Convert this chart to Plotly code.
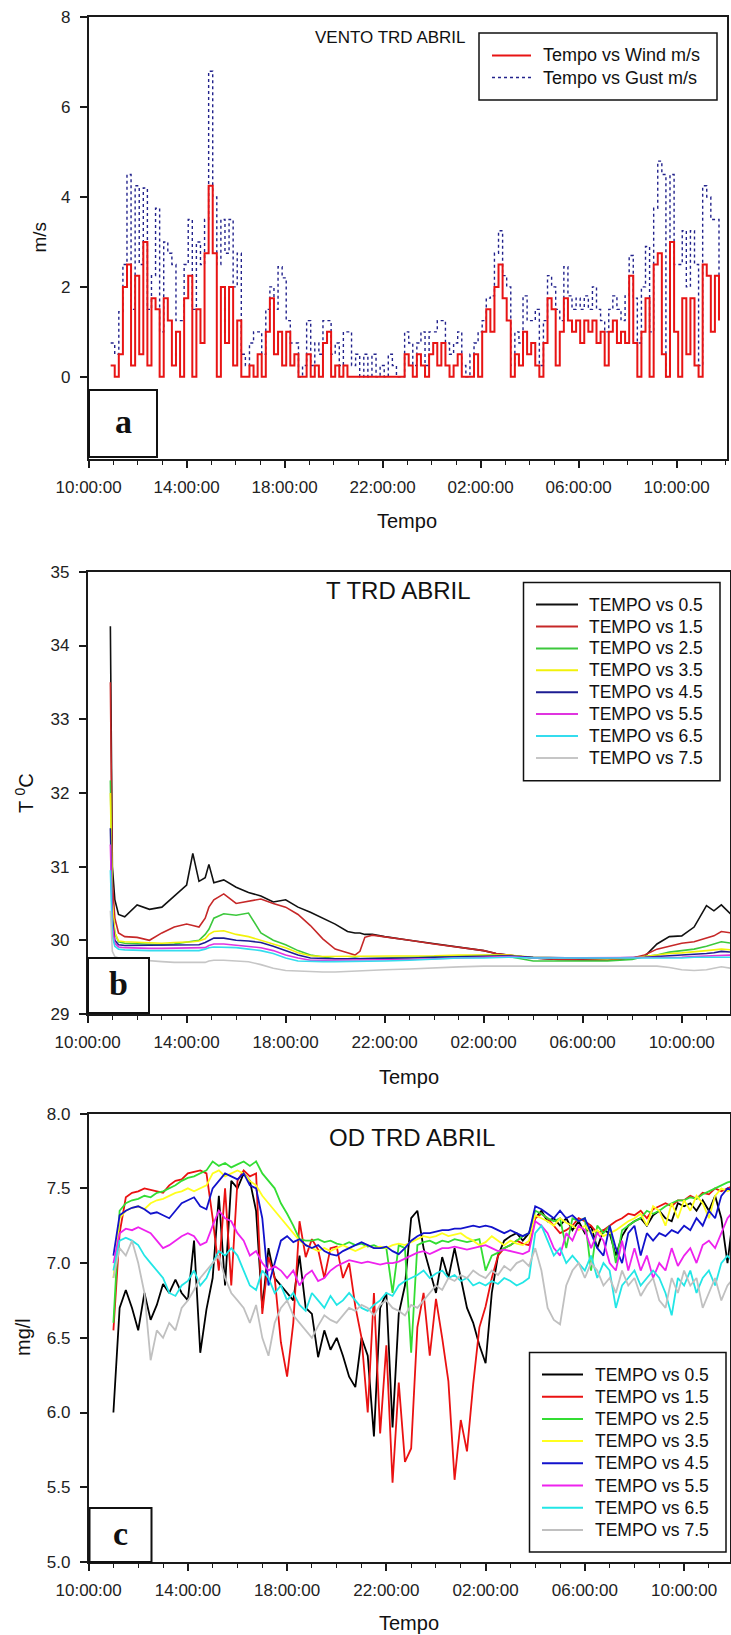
import pandas as pd
import plotly.graph_objects as go

FONT = "Liberation Sans"
SERIF = "Liberation Serif"
W, H = 731, 1635
BASE = pd.Timestamp("2014-04-10 10:00:00")

# ---------------- (a) VENTO: 10-minute records ----------------
WIND_START = "2014-04-10 10:54:00"
WIND_STEP = "10min"
WIND_MS = [
    0.25, 0.0, 0.5, 2.0, 2.5, 0.25,
    2.25, 0.5, 3.0, 0.25, 1.75, 1.5,
    0.0, 1.75, 1.25, 0.25, 1.0, 0.0,
    1.75, 2.25, 0.0, 1.5, 0.75, 2.75,
    4.25, 2.75, 0.0, 2.0, 0.75, 2.0,
    0.25, 1.25, 0.0, 0.0, 0.25, 0.0,
    0.5, 0.0, 1.0, 1.75, 0.5, 1.0,
    0.25, 1.0, 0.25, 0.5, 0.0, 0.0,
    0.5, 0.0, 0.25, 0.0, 0.75, 1.0,
    0.0, 0.25, 0.0, 0.25, 0.0, 0.0,
    0.0, 0.0, 0.0, 0.0, 0.0, 0.0,
    0.0, 0.0, 0.0, 0.0, 0.0, 0.0,
    0.5, 0.25, 0.0, 0.5, 0.25, 0.0,
    0.5, 0.75, 0.25, 0.75, 0.25, 0.0,
    0.25, 0.5, 0.0, 0.0, 0.0, 0.5,
    0.0, 1.0, 1.5, 1.0, 2.0, 2.5,
    1.75, 1.25, 0.0, 0.5, 0.25, 1.0,
    0.5, 0.75, 0.25, 0.0, 0.75, 1.75,
    1.5, 0.25, 1.0, 1.75, 1.25, 1.0,
    1.25, 0.75, 1.25, 1.0, 1.25, 0.75,
    1.0, 0.25, 1.0, 1.25, 0.75, 1.0,
    0.75, 2.25, 0.75, 0.0, 1.0, 1.75,
    0.0, 2.5, 2.75, 0.5, 0.0, 3.0,
    1.0, 0.0, 1.75, 0.5, 1.75, 0.25,
    0.0, 2.5, 2.25, 1.0, 2.25, 1.25,
]
GUST_MS = [
    0.75, 0.5, 1.45, 2.5, 4.5, 1.5,
    4.25, 2.5, 4.2, 1.5, 2.25, 3.75,
    1.0, 3.0, 2.75, 2.5, 1.25, 1.25,
    2.5, 3.5, 1.5, 3.0, 2.5, 3.5,
    6.8, 4.0, 2.5, 3.5, 2.75, 3.5,
    2.0, 2.75, 0.5, 0.25, 0.75, 1.0,
    1.0, 0.5, 1.5, 2.0, 1.5, 2.45,
    2.2, 1.25, 0.75, 0.75, 0.0, 0.25,
    1.25, 0.25, 0.75, 0.5, 1.25, 1.25,
    0.5, 0.75, 0.25, 1.0, 1.0, 0.25,
    0.5, 0.0, 0.5, 0.0, 0.5, 0.0,
    0.25, 0.0, 0.5, 0.25, 0.0, 0.0,
    1.0, 0.75, 0.25, 0.75, 1.0, 0.25,
    1.0, 1.0, 1.25, 1.25, 0.75, 0.5,
    0.75, 1.0, 0.25, 0.0, 0.5, 0.75,
    1.0, 1.25, 1.75, 1.8, 2.75, 3.25,
    2.25, 2.0, 0.25, 1.0, 0.75, 1.8,
    1.25, 1.25, 1.5, 0.25, 1.25, 2.25,
    2.0, 1.5, 1.25, 2.45, 1.8, 1.5,
    1.75, 1.5, 1.8, 1.5, 2.0, 1.5,
    1.25, 1.0, 1.5, 1.8, 1.5, 1.25,
    1.8, 2.7, 1.75, 0.75, 2.0, 2.9,
    1.0, 3.75, 4.8, 4.5, 0.0, 4.5,
    2.5, 2.5, 3.25, 2.0, 3.25, 2.5,
    0.25, 4.25, 4.0, 3.5, 3.5, 1.5,
]
WIND_NAMES = ["Tempo vs Wind m/s", "Tempo vs Gust m/s"]

# ---------------- (b) temperature by depth ----------------
# sample times, hours after 10:00 of the first day
TEMP_HOURS = [0.92, 0.96, 1.0, 1.1, 1.25, 1.5, 2.0, 2.5, 3.0, 3.5, 4.0, 4.25, 4.5,
              4.75, 4.9, 5.1, 5.5, 6.0, 6.5, 7.0, 7.5, 8.0, 8.5, 9.0, 9.5, 10.0,
              10.5, 10.8, 11.0, 11.2, 11.5, 12.0, 13.0, 14.0, 15.0, 16.0, 16.5,
              17.0, 18.0, 19.0, 20.0, 21.0, 22.0, 22.5, 23.0, 23.5, 24.0, 24.5,
              25.0, 25.3, 25.6, 26.0]
TEMP_05 = [34.26, 32.2, 31.0, 30.55, 30.35, 30.32, 30.48, 30.42, 30.45, 30.6, 30.75,
           31.18, 30.8, 30.85, 31.03, 30.78, 30.82, 30.72, 30.65, 30.6, 30.52, 30.55,
           30.45, 30.38, 30.3, 30.22, 30.12, 30.1, 30.1, 30.08, 30.08, 30.05, 30.0,
           29.95, 29.9, 29.86, 29.82, 29.8, 29.76, 29.74, 29.74, 29.73, 29.76, 29.78,
           29.95, 30.05, 30.06, 30.18, 30.47, 30.4, 30.48, 30.35]
TEMP_15 = [33.5, 32.0, 30.8, 30.3, 30.1, 30.05, 30.04, 30.0, 30.1, 30.18, 30.22, 30.2,
           30.18, 30.3, 30.45, 30.55, 30.63, 30.5, 30.53, 30.56, 30.5, 30.45, 30.35,
           30.2, 30.02, 29.88, 29.83, 29.8, 29.85, 30.04, 30.07, 30.05, 30.0, 29.95,
           29.9, 29.86, 29.82, 29.8, 29.76, 29.74, 29.74, 29.73, 29.76, 29.8, 29.88,
           29.92, 29.96, 29.98, 30.03, 30.06, 30.12, 30.1]
TEMP_25 = [32.17, 31.0, 30.4, 30.1, 29.98, 29.96, 29.95, 29.94, 29.94, 29.95, 29.97,
           29.98, 30.0, 30.08, 30.15, 30.3, 30.36, 30.34, 30.37, 30.1, 30.0, 29.94,
           29.86, 29.8, 29.77, 29.75, 29.75, 29.76, 29.75, 29.75, 29.76, 29.76, 29.77,
           29.78, 29.78, 29.79, 29.8, 29.78, 29.72, 29.72, 29.72, 29.72, 29.74, 29.78,
           29.8, 29.84, 29.86, 29.88, 29.92, 29.95, 29.98, 29.96]
TEMP_35 = [32.0, 31.2, 30.5, 30.1, 29.99, 29.98, 29.97, 29.96, 29.96, 29.97, 29.97,
           29.98, 29.99, 30.02, 30.08, 30.12, 30.13, 30.08, 30.05, 30.0, 29.95, 29.9,
           29.83, 29.79, 29.78, 29.78, 29.78, 29.78, 29.78, 29.78, 29.78, 29.78, 29.79,
           29.79, 29.8, 29.8, 29.8, 29.8, 29.77, 29.76, 29.76, 29.75, 29.76, 29.78,
           29.8, 29.82, 29.83, 29.84, 29.86, 29.87, 29.88, 29.87]
TEMP_45 = [31.52, 30.8, 30.3, 30.0, 29.94, 29.93, 29.93, 29.93, 29.93, 29.93, 29.93,
           29.94, 29.94, 29.97, 30.0, 30.03, 30.03, 30.0, 29.99, 29.97, 29.92, 29.86,
           29.8, 29.76, 29.75, 29.75, 29.75, 29.75, 29.75, 29.75, 29.75, 29.76, 29.76,
           29.77, 29.78, 29.78, 29.79, 29.79, 29.77, 29.76, 29.76, 29.76, 29.76, 29.77,
           29.78, 29.79, 29.8, 29.8, 29.82, 29.83, 29.85, 29.84]
TEMP_55 = [31.3, 30.6, 30.2, 29.96, 29.91, 29.9, 29.89, 29.89, 29.89, 29.89, 29.89,
           29.89, 29.89, 29.9, 29.93, 29.95, 29.95, 29.93, 29.91, 29.9, 29.86, 29.8,
           29.76, 29.73, 29.73, 29.73, 29.73, 29.73, 29.73, 29.73, 29.73, 29.73, 29.74,
           29.75, 29.76, 29.76, 29.77, 29.78, 29.76, 29.76, 29.76, 29.76, 29.77, 29.77,
           29.77, 29.77, 29.77, 29.78, 29.79, 29.79, 29.8, 29.8]
TEMP_65 = [30.95, 30.4, 30.05, 29.92, 29.88, 29.87, 29.86, 29.86, 29.86, 29.86, 29.86,
           29.86, 29.86, 29.88, 29.9, 29.91, 29.91, 29.9, 29.88, 29.86, 29.82, 29.76,
           29.72, 29.71, 29.71, 29.71, 29.71, 29.71, 29.71, 29.71, 29.71, 29.72, 29.73,
           29.75, 29.76, 29.76, 29.77, 29.77, 29.76, 29.76, 29.76, 29.76, 29.76, 29.75,
           29.75, 29.76, 29.76, 29.77, 29.77, 29.78, 29.77, 29.77]
TEMP_75 = [30.4, 30.0, 29.85, 29.78, 29.76, 29.75, 29.74, 29.72, 29.71, 29.7, 29.7,
           29.69, 29.69, 29.7, 29.72, 29.73, 29.73, 29.72, 29.71, 29.67, 29.62, 29.59,
           29.58, 29.57, 29.57, 29.57, 29.58, 29.58, 29.59, 29.59, 29.59, 29.6, 29.61,
           29.63, 29.64, 29.65, 29.65, 29.66, 29.66, 29.66, 29.66, 29.66, 29.66, 29.66,
           29.65, 29.63, 29.6, 29.59, 29.6, 29.62, 29.64, 29.62]

# ---------------- (c) dissolved oxygen: 15-minute records ----------------
OD_START = "2014-04-10 11:00:00"
OD_STEP = "15min"
OD_05 = [6.0, 6.7, 6.82, 6.7, 6.55, 6.8, 6.62, 6.72, 6.86, 6.8, 6.89, 6.8,
         6.75, 7.15, 6.4, 6.69, 6.9, 7.45, 6.85, 7.55, 7.5, 7.6, 7.55, 7.35,
         6.7, 7.1, 6.9, 6.85, 6.8, 6.75, 7.05, 6.7, 6.66, 6.37, 6.55, 6.42,
         6.5, 6.38, 6.24, 6.17, 6.5, 6.38, 5.84, 6.7, 6.8, 5.9, 6.66, 6.85,
         7.3, 7.35, 7.1, 6.95, 6.8, 7.04, 6.9, 7.1, 6.9, 6.7, 6.6, 6.45,
         6.33, 6.8, 7.05, 7.15, 7.18, 7.2, 7.15, 7.2, 7.3, 7.35, 7.28, 7.3,
         7.25, 7.3, 7.22, 7.28, 7.2, 7.25, 7.1, 7.22, 7.2, 7.05, 7.18, 7.25,
         7.28, 7.3, 7.25, 7.32, 7.35, 7.3, 7.28, 7.4, 7.38, 7.4, 7.35, 7.42,
         7.35, 7.45, 7.3, 7.0, 7.35]
OD_15 = [6.55, 7.2, 7.44, 7.47, 7.48, 7.5, 7.49, 7.48, 7.47, 7.52, 7.55, 7.56,
         7.6, 7.61, 7.62, 7.6, 7.3, 6.95, 7.5, 6.85, 7.55, 7.62, 7.58, 7.6,
         6.66, 7.04, 6.9, 6.47, 6.24, 6.6, 7.28, 7.04, 7.16, 7.09, 6.9, 7.1,
         7.11, 6.9, 7.0, 6.71, 6.5, 6.0, 6.8, 5.86, 6.45, 5.53, 6.2, 5.67,
         5.76, 6.57, 6.8, 6.38, 6.76, 6.5, 6.21, 5.55, 5.95, 5.74, 6.19, 6.57,
         6.71, 6.9, 7.05, 7.1, 7.12, 7.15, 7.13, 7.12, 7.3, 7.33, 7.3, 7.25,
         7.2, 7.22, 7.25, 7.3, 7.28, 7.25, 7.2, 7.22, 7.25, 7.28, 7.3, 7.33,
         7.32, 7.35, 7.3, 7.36, 7.38, 7.4, 7.38, 7.42, 7.42, 7.45, 7.43, 7.47,
         7.46, 7.5, 7.48, 7.5, 7.52]
OD_25 = [6.6, 7.35, 7.4, 7.42, 7.43, 7.45, 7.44, 7.47, 7.48, 7.5, 7.52, 7.55,
         7.57, 7.58, 7.6, 7.62, 7.68, 7.65, 7.67, 7.64, 7.66, 7.68, 7.65, 7.68,
         7.6, 7.55, 7.5, 7.4, 7.33, 7.25, 7.16, 7.15, 7.15, 7.16, 7.14, 7.15,
         7.13, 7.12, 7.14, 7.12, 7.13, 7.11, 7.12, 7.1, 7.1, 6.8, 7.12, 7.1,
         6.4, 7.12, 7.14, 7.15, 7.13, 7.15, 7.14, 7.16, 7.15, 7.14, 7.15, 7.16,
         6.95, 7.05, 7.07, 7.1, 7.12, 7.15, 7.18, 7.2, 7.35, 7.33, 7.3, 7.28,
         7.3, 7.1, 7.3, 7.28, 7.3, 6.95, 7.25, 7.2, 7.25, 7.0, 7.22, 7.25,
         7.28, 7.3, 7.35, 7.33, 7.35, 7.38, 7.4, 7.42, 7.42, 7.44, 7.43, 7.46,
         7.48, 7.5, 7.52, 7.54, 7.55]
OD_35 = [6.9, 7.3, 7.35, 7.37, 7.38, 7.36, 7.4, 7.42, 7.43, 7.45, 7.47, 7.48,
         7.5, 7.48, 7.5, 7.52, 7.6, 7.62, 7.58, 7.6, 7.62, 7.6, 7.55, 7.52,
         7.45, 7.4, 7.35, 7.3, 7.25, 7.2, 7.15, 7.12, 7.1, 7.08, 7.1, 7.08,
         7.1, 7.12, 7.1, 7.08, 7.1, 7.12, 7.1, 7.11, 7.1, 7.12, 7.13, 7.12,
         7.14, 7.16, 7.18, 7.17, 7.18, 7.2, 7.18, 7.19, 7.2, 7.17, 7.15, 7.12,
         7.14, 7.18, 7.15, 7.12, 7.15, 7.13, 7.12, 7.15, 7.32, 7.3, 7.28, 7.25,
         7.3, 7.27, 7.25, 7.22, 7.25, 7.2, 7.22, 7.18, 7.2, 7.22, 7.25, 7.28,
         7.3, 7.33, 7.25, 7.38, 7.35, 7.25, 7.4, 7.3, 7.42, 7.35, 7.45, 7.4,
         7.3, 7.45, 7.5, 7.48, 7.5]
OD_45 = [7.05, 7.32, 7.35, 7.37, 7.38, 7.36, 7.33, 7.34, 7.32, 7.3, 7.35, 7.4,
         7.42, 7.44, 7.38, 7.36, 7.5, 7.55, 7.6, 7.58, 7.56, 7.6, 7.52, 7.5,
         7.3, 6.85, 7.0, 7.15, 7.18, 7.14, 7.16, 7.12, 7.1, 7.12, 7.08, 7.06,
         7.05, 7.08, 7.1, 7.12, 7.14, 7.12, 7.1, 7.1, 7.11, 7.08, 7.06, 7.1,
         7.15, 7.18, 7.2, 7.2, 7.21, 7.22, 7.22, 7.23, 7.23, 7.24, 7.25, 7.24,
         7.25, 7.24, 7.22, 7.2, 7.22, 7.2, 7.18, 7.2, 7.38, 7.36, 7.33, 7.3,
         7.35, 7.3, 7.32, 7.28, 7.3, 7.2, 7.1, 7.05, 7.25, 7.1, 7.0, 7.2,
         7.25, 7.05, 7.2, 7.15, 7.2, 7.18, 7.22, 7.2, 7.25, 7.22, 7.3, 7.25,
         7.35, 7.3, 7.45, 7.5, 7.48]
OD_55 = [7.0, 7.2, 7.23, 7.22, 7.24, 7.22, 7.2, 7.15, 7.1, 7.12, 7.15, 7.18,
         7.2, 7.18, 7.12, 7.14, 7.25, 7.35, 7.3, 7.28, 7.2, 7.15, 7.05, 7.08,
         7.0, 6.95, 6.98, 6.95, 6.9, 6.95, 6.85, 6.92, 6.95, 6.88, 6.9, 6.95,
         6.98, 7.0, 7.02, 7.01, 7.0, 7.01, 7.0, 6.99, 7.0, 7.0, 7.01, 7.03,
         7.05, 7.07, 7.08, 7.06, 7.08, 7.1, 7.1, 7.11, 7.1, 7.09, 7.1, 7.11,
         7.12, 7.1, 7.08, 7.09, 7.08, 7.07, 7.06, 7.08, 7.28, 7.25, 7.2, 7.1,
         7.05, 7.2, 7.15, 7.25, 7.22, 7.1, 7.2, 7.15, 7.0, 6.95, 7.15, 6.95,
         7.1, 6.95, 7.05, 6.9, 7.0, 6.95, 7.1, 6.98, 7.05, 7.1, 7.0, 7.12,
         7.15, 7.1, 7.2, 7.3, 7.35]
OD_65 = [6.95, 7.15, 7.17, 7.15, 7.12, 7.05, 7.0, 6.95, 6.9, 6.8, 6.78, 6.85,
         6.88, 6.95, 6.85, 6.9, 7.0, 7.08, 7.05, 7.1, 7.05, 6.95, 6.85, 6.82,
         6.95, 6.9, 6.8, 6.85, 6.75, 6.8, 6.72, 6.68, 6.8, 6.75, 6.7, 6.78,
         6.72, 6.75, 6.8, 6.75, 6.7, 6.68, 6.72, 6.75, 6.8, 6.78, 6.85, 6.88,
         6.9, 6.92, 6.95, 6.9, 6.93, 6.95, 6.9, 6.92, 6.88, 6.9, 6.85, 6.87,
         6.85, 6.88, 6.86, 6.9, 6.88, 6.85, 6.87, 6.9, 7.2, 7.25, 7.15, 7.05,
         7.1, 7.0, 7.05, 7.0, 6.95, 7.05, 6.9, 7.0, 6.95, 6.7, 6.85, 6.9,
         6.95, 6.85, 6.9, 6.95, 6.9, 6.8, 6.65, 6.9, 6.85, 6.95, 6.8, 6.9,
         6.95, 6.85, 7.0, 7.05, 7.0]
OD_75 = [6.9, 7.1, 7.05, 7.15, 7.0, 6.8, 6.35, 6.55, 6.5, 6.6, 6.55, 6.7,
         6.75, 6.82, 6.9, 6.95, 7.0, 7.05, 6.9, 6.8, 6.75, 6.7, 6.6, 6.72,
         6.5, 6.38, 6.6, 6.7, 6.75, 6.65, 6.6, 6.55, 6.5, 6.58, 6.65, 6.62,
         6.6, 6.65, 6.7, 6.68, 6.72, 6.7, 6.65, 6.72, 6.75, 6.7, 6.68, 6.65,
         6.72, 6.7, 6.75, 6.8, 6.85, 6.82, 6.9, 6.88, 6.92, 6.9, 6.95, 6.92,
         6.9, 6.95, 6.92, 6.98, 6.95, 7.0, 7.02, 6.98, 7.1, 6.95, 6.7, 6.62,
         6.59, 6.85, 6.95, 7.0, 6.9, 7.0, 6.95, 6.85, 6.9, 6.8, 6.95, 6.85,
         6.9, 6.78, 6.85, 6.9, 6.75, 6.7, 6.9, 6.8, 6.95, 6.85, 6.9, 6.7,
         6.8, 6.9, 6.75, 6.85, 6.9]

DEPTHS = ["0.5", "1.5", "2.5", "3.5", "4.5", "5.5", "6.5", "7.5"]
TEMP_SERIES = [TEMP_05, TEMP_15, TEMP_25, TEMP_35, TEMP_45, TEMP_55, TEMP_65, TEMP_75]
OD_SERIES = [OD_05, OD_15, OD_25, OD_35, OD_45, OD_55, OD_65, OD_75]
TEMP_COLORS = ["#111111", "#c62828", "#3cc83c", "#f2f20a", "#1c1c92", "#e034e0", "#34dcee", "#c6c6c6"]
OD_COLORS = ["#000000", "#ea1212", "#33dd33", "#ffff1e", "#1212cc", "#ee22ee", "#22e6e6", "#c0c0c0"]
WIND_COLOR, GUST_COLOR = "#e81414", "#22228c"


def px_x(x):
    return x / W


def px_y(y):
    return 1 - y / H


def clock(hours):
    return [BASE + pd.Timedelta(hours=h) for h in hours]


fig = go.Figure()

# (a) wind and gust, drawn as held steps between records
wind_t = pd.date_range(WIND_START, periods=len(WIND_MS), freq=WIND_STEP)
fig.add_trace(go.Scatter(x=wind_t, y=GUST_MS, mode="lines", name=WIND_NAMES[1],
                         line=dict(color=GUST_COLOR, width=1.4, dash="dot", shape="hv"),
                         xaxis="x", yaxis="y"))
fig.add_trace(go.Scatter(x=wind_t, y=WIND_MS, mode="lines", name=WIND_NAMES[0],
                         line=dict(color=WIND_COLOR, width=2.0, shape="hv"),
                         xaxis="x", yaxis="y"))

# (b) temperature
temp_t = clock(TEMP_HOURS)
for depth, vals, col in zip(DEPTHS, TEMP_SERIES, TEMP_COLORS):
    fig.add_trace(go.Scatter(x=temp_t, y=vals, mode="lines", name=f"TEMPO vs {depth}",
                             line=dict(color=col, width=1.6), xaxis="x2", yaxis="y2"))

# (c) dissolved oxygen
for depth, vals, col in zip(DEPTHS, OD_SERIES, OD_COLORS):
    od_t = pd.date_range(OD_START, periods=len(vals), freq=OD_STEP)
    fig.add_trace(go.Scatter(x=od_t, y=vals, mode="lines", name=f"TEMPO vs {depth}",
                             line=dict(color=col, width=1.8), xaxis="x3", yaxis="y3"))

AX_COLOR = "#1a1a1a"
axis_common = dict(showline=True, linecolor=AX_COLOR, linewidth=1.5, mirror=True,
                   ticks="outside", ticklen=7, tickwidth=1.5, tickcolor=AX_COLOR,
                   showgrid=False, zeroline=False, automargin=False,
                   tickfont=dict(family=FONT, size=17, color="#222222"))


def time_axis(x0, x1, span_h, anchor):
    return dict(axis_common, domain=[px_x(x0), px_x(x1)], anchor=anchor, type="date",
                range=[str(BASE), str(BASE + pd.Timedelta(hours=span_h))],
                tickformat="%H:%M:%S", dtick=4 * 3600 * 1000, tick0=str(BASE),
                ticklabelstandoff=5,
                minor=dict(dtick=3600 * 1000, tick0=str(BASE), ticks="outside",
                           ticklen=4, tickwidth=1.2, tickcolor=AX_COLOR, showgrid=False))


def value_axis(y_bottom, y_top, rng, dtick, anchor, fmt=None):
    ax = dict(axis_common, domain=[px_y(y_bottom), px_y(y_top)], anchor=anchor,
              range=rng, dtick=dtick, tick0=0, ticklabelstandoff=6)
    if fmt:
        ax["tickformat"] = fmt
    return ax


annotations = []
shapes = []


def text(x, y, s, size, angle=0, family=FONT, bold=False, anchor="center"):
    annotations.append(dict(x=px_x(x), y=px_y(y), xref="paper", yref="paper",
                            text=f"<b>{s}</b>" if bold else s, showarrow=False,
                            xanchor=anchor, yanchor="middle", textangle=angle,
                            font=dict(family=family, size=size, color="#111111")))


def draw_key(box, row0, step, sample, text_x, entries, size):
    """Boxed key: one sample line and one label per entry (label, colour, dash)."""
    x0, y0, x1, y1 = box
    shapes.append(dict(type="rect", xref="paper", yref="paper",
                       x0=px_x(x0), x1=px_x(x1), y0=px_y(y1), y1=px_y(y0),
                       line=dict(color="#111111", width=1.5), fillcolor="white",
                       layer="above"))
    for i, (label, col, dash, width) in enumerate(entries):
        row_y = row0 + i * step
        shapes.append(dict(type="line", xref="paper", yref="paper",
                           x0=px_x(sample[0]), x1=px_x(sample[1]),
                           y0=px_y(row_y), y1=px_y(row_y),
                           line=dict(color=col, width=width, dash=dash), layer="above"))
        text(text_x, row_y, label, size, anchor="left")


# panel titles
text(390, 38, "VENTO TRD ABRIL", 17)
text(399, 591, "T TRD ABRIL", 24)
text(412, 1137, "OD TRD ABRIL", 24)
# axis titles
text(38.5, 237, "m/s", 19, angle=-90)
text(24, 793, "T <sup>0</sup>C", 20, angle=-90)
text(23, 1337, "mg/l", 20, angle=-90)
text(407, 521, "Tempo", 20)
text(409, 1077, "Tempo", 20)
text(409, 1623, "Tempo", 20)

# keys
draw_key((479, 33, 717, 100), 55.5, 22, (492, 531), 541,
         [(WIND_NAMES[0], WIND_COLOR, "solid", 2), (WIND_NAMES[1], GUST_COLOR, "dot", 1.5)], 18)
draw_key((523.5, 582.5, 720, 780.7), 604.6, 21.9, (536, 578), 586.5,
         [(f"TEMPO vs {d}", c, "solid", 2) for d, c in zip(DEPTHS, TEMP_COLORS)], 17.5)
draw_key((529.5, 1352.6, 726, 1552), 1374.5, 22.2, (542, 583), 593,
         [(f"TEMPO vs {d}", c, "solid", 2) for d, c in zip(DEPTHS, OD_COLORS)], 17.5)

# panel letters in boxed corners
for (x0, y0, x1, y1), letter in zip([(89, 390, 157, 457), (88, 958, 149, 1013), (89.5, 1508, 151.5, 1562)],
                                    ["a", "b", "c"]):
    shapes.append(dict(type="rect", xref="paper", yref="paper",
                       x0=px_x(x0), x1=px_x(x1), y0=px_y(y1), y1=px_y(y0),
                       line=dict(color="#111111", width=2), fillcolor="white", layer="above"))
    text((x0 + x1) / 2, (y0 + y1) / 2 - 2, letter, 34, family=SERIF, bold=True)

fig.update_layout(
    template="none",
    width=W, height=H, margin=dict(l=0, r=0, t=0, b=0, pad=0, autoexpand=False),
    paper_bgcolor="white", plot_bgcolor="white", showlegend=False,
    font=dict(family=FONT, color="#111111"),
    xaxis=time_axis(88.6, 727, 26.06, "y"),
    yaxis=value_axis(459, 17.3, [-1.83, 8], 2, "x"),
    xaxis2=time_axis(87.6, 730, 25.95, "y2"),
    yaxis2=value_axis(1014, 571.8, [29, 35], 1, "x2"),
    xaxis3=time_axis(88.6, 730, 25.85, "y3"),
    yaxis3=value_axis(1562, 1113.6, [5, 8], 0.5, "x3", fmt=".1f"),
    annotations=annotations, shapes=shapes,
)

fig.write_html("out.html")
